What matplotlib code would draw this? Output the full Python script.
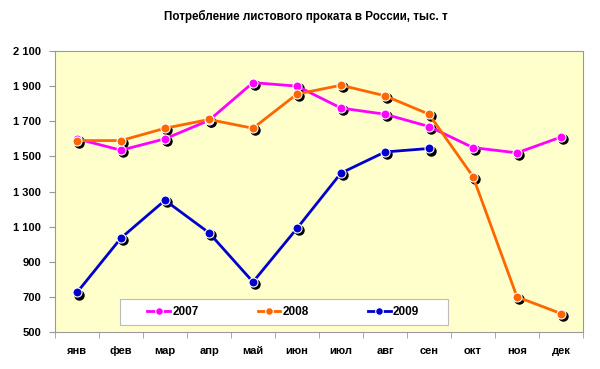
import matplotlib
matplotlib.use('Agg')
import matplotlib.pyplot as plt
import matplotlib.transforms as mtransforms
from matplotlib.patches import Rectangle

months = ['янв', 'фев', 'мар', 'апр', 'май', 'июн', 'июл', 'авг', 'сен', 'окт', 'ноя', 'дек']
y2007 = [1600, 1535, 1600, 1705, 1920, 1900, 1775, 1740, 1670, 1550, 1520, 1610]
y2008 = [1590, 1590, 1660, 1710, 1660, 1855, 1905, 1845, 1740, 1385, 700, 605]
y2009 = [725, 1035, 1250, 1065, 785, 1090, 1405, 1525, 1545]
yticks = [500, 700, 900, 1100, 1300, 1500, 1700, 1900, 2100]
ytick_labels = ['500', '700', '900', '1 100', '1 300', '1 500', '1 700', '1 900', '2 100']

plt.rcParams['font.family'] = ['Liberation Sans', 'DejaVu Sans']

fig = plt.figure(figsize=(6, 3.69), dpi=100)
ax = fig.add_axes([55/600, 1 - 332/369, 528/600, 281/369])
ax.set_facecolor('#FFFFCC')

series = [('2007', y2007, '#FF00FF'),
          ('2008', y2008, '#FF6600'),
          ('2009', y2009, '#0000CC')]

# black drop shadow under each marker
shadow = mtransforms.offset_copy(ax.transData, fig=fig, x=1.5, y=-1.5, units='points')
for label, vals, color in series:
    xs = list(range(len(vals)))
    ax.plot(xs, vals, 'o', color='black', markersize=6.5, transform=shadow, zorder=2)
    ax.plot(xs, vals, '-o', color=color, lw=2.0, markersize=6.5,
            markeredgecolor='white', markeredgewidth=0.8, label=label, zorder=3)

ax.set_xlim(-0.5, 11.5)
ax.set_ylim(500, 2100)
ax.set_yticks(yticks)
ax.set_yticklabels(ytick_labels, fontsize=8, fontweight='bold')
ax.set_xticks(range(12))
ax.set_xticklabels(months, fontsize=8, fontweight='bold')
ax.set_xticks([i + 0.5 for i in range(-1, 12)], minor=True)
ax.tick_params(axis='x', which='major', length=0, pad=10)
ax.tick_params(axis='x', which='minor', length=4, color='#999999')
ax.tick_params(axis='y', length=4, color='#999999', pad=6)
for s in ax.spines.values():
    s.set_color('#999999')

# legend box
ax.add_patch(Rectangle((0.123, 0.025), 0.621, 0.0925, transform=ax.transAxes,
                       facecolor='white', edgecolor='#BBBBBB', lw=0.8, zorder=4))
leg = ax.legend(loc='center left', bbox_to_anchor=(0.175, 0.071, 0.515, 0.0),
                mode='expand', ncol=3, frameon=False,
                prop={'size': 8.5, 'weight': 'bold'}, handlelength=1.9,
                borderpad=0, borderaxespad=0, handletextpad=0.2)
leg.set_zorder(5)
for h in leg.legend_handles:
    h.set_markersize(5.5)

fig.text(0.51, 1 - 16/369, 'Потребление листового проката в России, тыс. т',
         ha='center', va='center', fontsize=8.4, fontweight='bold')

fig.savefig('out.png', dpi=100)
